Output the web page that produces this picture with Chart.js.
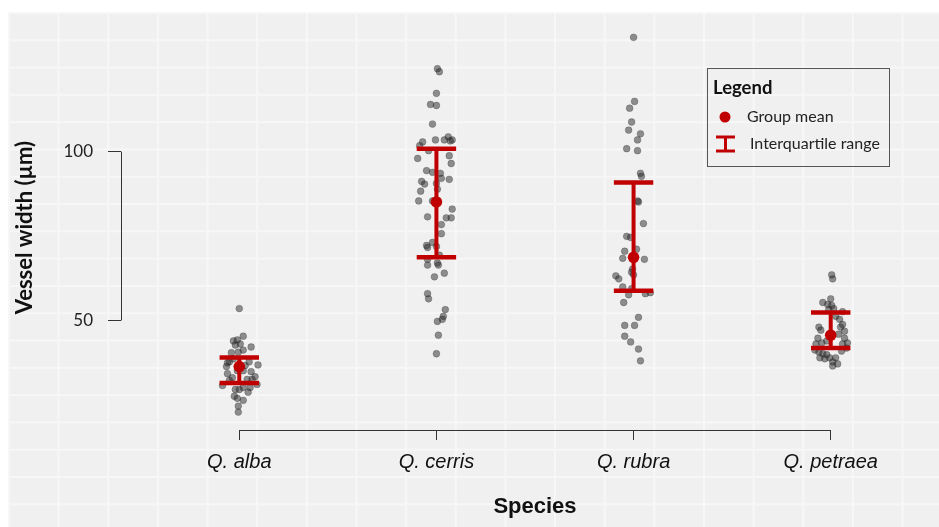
<!DOCTYPE html>
<html>
<head>
<meta charset="utf-8">
<script src="https://cdn.jsdelivr.net/npm/chart.js@4.4.1/dist/chart.umd.min.js"></script>
<style>
  html, body { margin: 0; padding: 0; overflow: hidden; background: #fff; }
  #wrap { position: relative; width: 939px; height: 527px; overflow: hidden; background: #fff; }
  #paper {
    position: absolute;
    left: 8px;
    top: 12px;
    right: 0;
    bottom: 0;
    background-color: #f0f0f0;
    background-image:
      linear-gradient(to right, #f7f7f7 2px, transparent 2px),
      linear-gradient(to bottom, #f7f7f7 2px, transparent 2px);
    background-size: 49.65px 27.3px;
    background-position: 0 0;
  }
  #chart { position: absolute; left: 0; top: 0; }
</style>
</head>
<body>
<div id="wrap"><div id="paper"></div><canvas id="chart" width="960" height="527"></canvas></div>
<script>
// 物種與刻度
const SPECIES = ['Q. alba', 'Q. cerris', 'Q. rubra', 'Q. petraea'];
const Y_TICKS = [50, 100];

// 各物種導管寬度 (µm) 與水平抖動
const ALBA = [53.5, 43.9, 44.2, 45.3, 43.0, 42.7, 42.1, 40.4, 40.6, 41.2, 37.7, 37.4, 36.8, 37.7, 33.0, 34.8, 33.3, 32.5, 32.5, 30.7,
    32.2, 29.5, 29.5, 30.1, 30.1, 28.7, 27.5, 26.9, 26.3, 24.6, 22.8, 35.1, 35.1, 31.0, 34.2, 38.6, 36.6, 36.3];
const ALBA_JITTER = [0, -0.03, -0.01, 0.02, 0.005, -0.02, 0.06, -0.04, -0.005, 0.02, -0.05, -0.06, 0.095, 0.05, -0.035, 0.06, 0.08, 0.04, 0.065, -0.085,
    -0.05, -0.02, 0, 0.02, 0.055, 0.045, -0.025, -0.01, 0.02, -0.005, -0.005, 0.02, -0.01, 0.09, -0.06, -0.03, 0.03, -0.065];

const CERRIS = [124.6, 123.7, 117.3, 114.0, 113.7, 108.2, 103.5, 103.5, 104.4, 103.5, 103.2, 102.9, 101.8, 100.3, 98.8, 98.0, 96.5, 94.4, 93.9, 93.6,
    92.1, 91.8, 91.2, 90.4, 90.6, 88.9, 88.3, 85.4, 85.4, 83.0, 80.7, 80.4, 80.4, 78.4, 75.7, 73.1, 72.2, 71.6, 71.9, 69.3,
    68.1, 67.0, 66.4, 66.4, 64.0, 62.9, 57.9, 56.4, 53.2, 51.2, 50.3, 49.7, 45.6, 40.1];
const CERRIS_JITTER = [0.005, 0.015, 0, -0.03, 0, -0.02, -0.005, 0.04, 0.06, 0.08, 0.07, -0.07, -0.085, -0.04, 0.065, -0.095, 0.075, -0.05, -0.02, 0.02,
    0.025, 0.065, -0.075, -0.06, 0, 0.005, -0.08, -0.09, -0.02, 0.08, -0.045, 0.05, 0.075, 0.025, 0.025, -0.02, -0.05, -0.045, 0, 0.015,
    -0.045, 0.005, 0.01, -0.045, 0.04, -0.01, -0.045, -0.04, 0.045, 0.035, 0.03, 0.005, 0.01, 0];

const RUBRA = [133.9, 114.9, 112.9, 108.8, 106.4, 105.3, 103.5, 100.9, 100.3, 93.6, 92.7, 85.4, 85.1, 78.7, 74.9, 74.6, 70.5, 71.1, 68.4, 68.1,
    65.2, 64.3, 63.2, 62.3, 63.5, 59.9, 59.4, 57.6, 57.9, 58.2, 55.3, 50.9, 48.5, 48.5, 45.3, 43.6, 41.5, 38.0];
const RUBRA_JITTER = [0, 0.005, -0.02, -0.01, -0.025, 0.035, 0.02, -0.035, 0.02, 0.035, 0.04, 0.02, 0.025, 0.05, -0.035, -0.015, -0.045, 0.015, -0.055, 0.055,
    -0.005, -0.01, -0.09, -0.075, 0, -0.055, -0.01, -0.025, 0.06, 0.085, -0.05, 0.025, -0.045, 0.005, -0.045, -0.015, 0.025, 0.035];

const PETRAEA = [63.5, 62.3, 56.4, 55.3, 54.7, 54.4, 53.5, 53.2, 52.6, 51.2, 50.3, 48.8, 48.0, 48.0, 47.1, 46.8, 45.9, 45.6, 44.7, 44.7,
    43.3, 43.0, 43.3, 43.9, 43.0, 41.2, 40.6, 40.1, 39.8, 38.9, 38.6, 38.9, 38.9, 37.7, 37.1, 36.5, 40.9, 41.8];
const PETRAEA_JITTER = [0.005, 0.01, 0, -0.04, -0.015, 0.005, 0.015, -0.01, 0.06, 0.025, 0.045, 0.06, -0.06, 0.05, -0.05, 0.07, 0.04, -0.005, 0.07, -0.065,
    0.085, -0.075, -0.045, -0.02, 0.06, -0.08, -0.06, -0.04, -0.02, -0.055, -0.03, -0.005, 0.025, 0.01, 0.035, 0.01, 0.055, 0.08];

// 組平均與四分位距
const GROUP_MEAN = [36.3, 85.1, 68.7, 45.6];
const IQR_LOW = [31.4, 68.7, 58.8, 41.8];
const IQR_HIGH = [39.0, 100.9, 90.9, 52.3];

const RED = '#c00000';
const CAP_HALF = 0.1;

const groups = [[ALBA, ALBA_JITTER], [CERRIS, CERRIS_JITTER], [RUBRA, RUBRA_JITTER], [PETRAEA, PETRAEA_JITTER]];
const points = [];
groups.forEach(([vals, jitter], i) => {
    vals.forEach((v, k) => points.push({ x: i + 1 + jitter[k], y: v }));
});

// 誤差線：直線與上下橫線，以 null 斷開
const stems = [];
const caps = [];
SPECIES.forEach((_, i) => {
    const x = i + 1;
    stems.push({ x, y: IQR_LOW[i] }, { x, y: IQR_HIGH[i] }, { x, y: null });
    caps.push({ x: x - CAP_HALF, y: IQR_HIGH[i] }, { x: x + CAP_HALF, y: IQR_HIGH[i] }, { x, y: null });
    caps.push({ x: x - CAP_HALF, y: IQR_LOW[i] }, { x: x + CAP_HALF, y: IQR_LOW[i] }, { x, y: null });
});

// R 風格的軸線：只畫刻度之間
const axisLines = {
    id: 'axisLines',
    beforeDatasetsDraw(chart) {
        const { ctx, chartArea, scales: { x, y } } = chart;
        ctx.save();
        ctx.strokeStyle = '#333';
        ctx.lineWidth = 1;
        ctx.beginPath();
        const lx = Math.round(chartArea.left) + 0.5;
        ctx.moveTo(lx, y.getPixelForValue(Y_TICKS[Y_TICKS.length - 1]));
        ctx.lineTo(lx, y.getPixelForValue(Y_TICKS[0]));
        const by = Math.round(chartArea.bottom) + 0.5;
        ctx.moveTo(x.getPixelForValue(1), by);
        ctx.lineTo(x.getPixelForValue(SPECIES.length), by);
        ctx.stroke();
        ctx.restore();
    }
};

// 右上角的圖例框
const boxLegend = {
    id: 'boxLegend',
    afterDraw(chart) {
        const { ctx } = chart;
        const meanLabel = chart.data.datasets[0].label;
        const iqrLabel = chart.data.datasets[1].label;
        ctx.save();
        ctx.strokeStyle = '#555';
        ctx.lineWidth = 1;
        ctx.strokeRect(707.5, 68.5, 182, 98);
        ctx.textBaseline = 'middle';
        ctx.fillStyle = '#111';
        ctx.font = 'bold 18.5px Lato';
        ctx.fillText('Legend', 713, 88);
        ctx.fillStyle = RED;
        ctx.beginPath();
        ctx.arc(725, 117, 5.5, 0, Math.PI * 2);
        ctx.fill();
        ctx.strokeStyle = RED;
        ctx.lineWidth = 3;
        ctx.beginPath();
        ctx.moveTo(716, 137); ctx.lineTo(735, 137);
        ctx.moveTo(725.5, 137); ctx.lineTo(725.5, 151);
        ctx.moveTo(716, 151); ctx.lineTo(735, 151);
        ctx.stroke();
        ctx.fillStyle = '#222';
        ctx.font = '16px Lato';
        ctx.fillText(meanLabel, 747, 117);
        ctx.fillText(iqrLabel, 750, 144);
        ctx.restore();
    }
};

new Chart(document.getElementById('chart'), {
    type: 'scatter',
    data: {
        datasets: [
            {
                label: 'Group mean',
                data: GROUP_MEAN.map((v, i) => ({ x: i + 1, y: v })),
                pointRadius: 5.8,
                backgroundColor: RED,
                borderWidth: 0,
                order: 0,
            },
            {
                label: 'Interquartile range',
                type: 'line',
                data: stems,
                borderColor: RED,
                borderWidth: 4,
                pointRadius: 0,
                spanGaps: false,
                order: 1,
            },
            {
                label: 'IQR caps',
                type: 'line',
                data: caps,
                borderColor: RED,
                borderWidth: 4.5,
                pointRadius: 0,
                spanGaps: false,
                order: 1,
            },
            {
                label: 'Vessels',
                data: points,
                pointRadius: 3.4,
                backgroundColor: 'rgba(40,40,40,0.5)',
                borderColor: 'rgba(30,30,30,0.3)',
                borderWidth: 0.8,
                order: 2,
            },
        ],
    },
    options: {
        responsive: false,
        animation: false,
        events: [],
        layout: { padding: { left: 0, top: 20, right: 11, bottom: 0 } },
        plugins: {
            legend: { display: false },
            tooltip: { enabled: false },
        },
        scales: {
            x: {
                type: 'linear',
                min: 0.4,
                max: 4.6,
                afterFit(s) { s.height = 97; },
                afterBuildTicks(s) { s.ticks = SPECIES.map((_, i) => ({ value: i + 1 })); },
                ticks: {
                    callback: v => SPECIES[v - 1],
                    font: { family: 'Liberation Sans', style: 'italic', size: 20 },
                    color: '#111',
                    padding: 10,
                    maxRotation: 0,
                    autoSkip: false,
                },
                grid: { drawOnChartArea: false, tickLength: 10, color: '#333' },
                border: { display: false },
                title: {
                    display: true,
                    text: 'Species',
                    font: { family: 'Liberation Sans', weight: 'bold', size: 22 },
                    color: '#111',
                    padding: { top: 0, bottom: 7 },
                },
            },
            y: {
                min: 17.5,
                max: 137.5,
                afterFit(s) { s.width = 121; },
                afterBuildTicks(s) { s.ticks = Y_TICKS.map(v => ({ value: v })); },
                ticks: {
                    font: { family: 'Lato', size: 17 },
                    color: '#222',
                    padding: 15,
                },
                grid: { drawOnChartArea: false, tickLength: 13, color: '#333' },
                border: { display: false },
                title: {
                    display: true,
                    text: 'Vessel width (µm)',
                    font: { family: 'Lato', weight: 'bold', size: 22 },
                    color: '#111',
                    padding: { top: 12, bottom: 0 },
                },
            },
        },
    },
    plugins: [axisLines, boxLegend],
});
</script>
</body>
</html>
